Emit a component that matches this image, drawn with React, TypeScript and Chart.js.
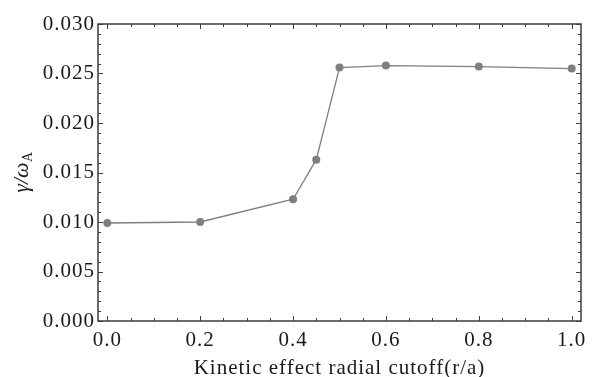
import React, { useEffect, useRef } from "react";
import { Chart, registerables } from "chart.js";

Chart.register(...registerables);

// Data
const cutoff = [0.0, 0.2, 0.4, 0.45, 0.5, 0.6, 0.8, 1.0];
const growthRate = [0.0099, 0.01, 0.0123, 0.0163, 0.0256, 0.0258, 0.0257, 0.0255];

const xMajorTicks = [0.0, 0.2, 0.4, 0.6, 0.8, 1.0];
const yMajorTicks = [0.0, 0.005, 0.01, 0.015, 0.02, 0.025, 0.03];
const xMinorStep = 0.05;
const yMinorStep = 0.001;

const xTitle = "Kinetic effect radial cutoff(r/a)";
const yTitleMain = "\u03b3/\u03c9";
const yTitleSub = "A";

const FONT = "'Liberation Serif', 'DejaVu Serif', serif";
const AXIS_COLOR = "#3c3c3c";
const SERIES_COLOR = "#7f7f7f";

export default function App() {
  const ref = useRef<HTMLCanvasElement | null>(null);

  useEffect(() => {
    const canvas = ref.current;
    if (!canvas) return;

    const spacing = {
      id: "spacing",
      beforeLayout(chart: any) {
        chart.ctx.letterSpacing = "1px";
      },
      beforeDraw(chart: any) {
        chart.ctx.letterSpacing = "1px";
      },
    };

    const frameAndTicks = {
      id: "frameAndTicks",
      afterDraw(chart: any) {
        const { ctx, chartArea } = chart;
        const xs = chart.scales.x;
        const ys = chart.scales.y;
        const { left, right, top, bottom } = chartArea;
        ctx.save();
        ctx.strokeStyle = AXIS_COLOR;
        ctx.lineWidth = 1.5;
        ctx.strokeRect(left, top, right - left, bottom - top);
        ctx.lineWidth = 1;
        const isMajor = (v: number, majors: number[]) =>
          majors.some((m) => Math.abs(m - v) < 1e-9);
        // x ticks (bottom and top, pointing inward)
        for (let i = 0; i <= Math.round(1 / xMinorStep); i++) {
          const v = i * xMinorStep;
          const len = isMajor(v, xMajorTicks) ? 5 : 3;
          const px = Math.round(xs.getPixelForValue(v)) + 0.5;
          ctx.beginPath();
          ctx.moveTo(px, bottom);
          ctx.lineTo(px, bottom - len);
          ctx.moveTo(px, top);
          ctx.lineTo(px, top + len);
          ctx.stroke();
        }
        // y ticks (left and right, pointing inward)
        for (let i = 0; i <= Math.round(0.03 / yMinorStep); i++) {
          const v = i * yMinorStep;
          const len = isMajor(v, yMajorTicks) ? 5 : 3;
          const py = Math.round(ys.getPixelForValue(v)) + 0.5;
          ctx.beginPath();
          ctx.moveTo(left, py);
          ctx.lineTo(left + len, py);
          ctx.moveTo(right, py);
          ctx.lineTo(right - len, py);
          ctx.stroke();
        }
        ctx.restore();

        // y-axis title: γ/ω_A rotated
        ctx.save();
        ctx.letterSpacing = "0px";
        ctx.fillStyle = "#1a1a1a";
        ctx.translate(28, (top + bottom) / 2);
        ctx.rotate(-Math.PI / 2);
        ctx.textBaseline = "alphabetic";
        ctx.font = `italic 22px ${FONT}`;
        const wMain = ctx.measureText(yTitleMain).width;
        ctx.font = `14px ${FONT}`;
        const wSub = ctx.measureText(yTitleSub).width;
        const start = -(wMain + wSub) / 2;
        ctx.font = `italic 22px ${FONT}`;
        ctx.fillText(yTitleMain, start, 0);
        ctx.font = `14px ${FONT}`;
        ctx.fillText(yTitleSub, start + wMain + 0.5, 4);
        ctx.restore();
      },
    };

    const chart = new Chart(canvas, {
      type: "line",
      data: {
        datasets: [
          {
            data: cutoff.map((x, i) => ({ x, y: growthRate[i] })),
            borderColor: SERIES_COLOR,
            borderWidth: 1.3,
            backgroundColor: SERIES_COLOR,
            pointBackgroundColor: SERIES_COLOR,
            pointBorderWidth: 0,
            pointRadius: 4,
            tension: 0,
            fill: false,
          },
        ],
      },
      options: {
        responsive: false,
        animation: false,
        events: [],
        layout: { padding: { top: 24, right: 13, left: 0, bottom: 0 } },
        plugins: {
          legend: { display: false },
          tooltip: { enabled: false },
        },
        scales: {
          x: {
            type: "linear",
            min: -0.02,
            max: 1.02,
            afterBuildTicks: (scale: any) => {
              scale.ticks = xMajorTicks.map((value) => ({ value }));
            },
            afterFit: (scale: any) => {
              scale.height = 56;
              scale.paddingLeft = 0;
              scale.paddingRight = 0;
            },
            grid: { display: false, drawTicks: false },
            border: { display: false },
            ticks: {
              padding: 7,
              maxRotation: 0,
              color: "#1a1a1a",
              font: { family: FONT, size: 21 },
              callback: (v: any) => Number(v).toFixed(1),
            },
            title: {
              display: true,
              text: xTitle,
              color: "#1a1a1a",
              font: { family: FONT, size: 21, lineHeight: 1 },
              padding: { top: 0, bottom: -2 },
            },
          },
          y: {
            type: "linear",
            min: 0,
            max: 0.03,
            afterBuildTicks: (scale: any) => {
              scale.ticks = yMajorTicks.map((value) => ({ value }));
            },
            afterFit: (scale: any) => {
              scale.width = 98;
              scale.paddingTop = 0;
              scale.paddingBottom = 0;
            },
            grid: { display: false, drawTicks: false },
            border: { display: false },
            ticks: {
              padding: 3,
              color: "#1a1a1a",
              font: { family: FONT, size: 21 },
              callback: (v: any) => Number(v).toFixed(3),
            },
          },
        },
      },
      plugins: [spacing, frameAndTicks],
    });

    return () => chart.destroy();
  }, []);

  return (
    <div style={{ position: "fixed", left: 0, top: 0, width: 594, height: 377, background: "#fff" }}>
      <canvas ref={ref} width={594} height={377} style={{ display: "block" }} />
    </div>
  );
}
